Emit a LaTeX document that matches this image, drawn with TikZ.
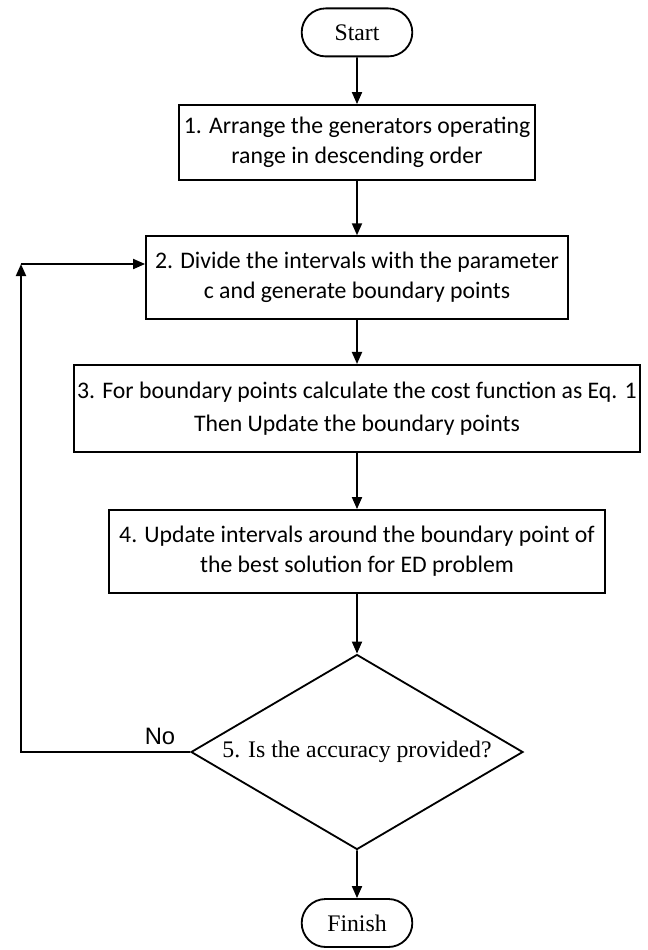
\documentclass[tikz,border=0pt]{standalone}
\usepackage{fontspec}
\setmainfont{Liberation Serif}
\newfontfamily\stepfont{Carlito}
\newfontfamily\labelfont{Liberation Sans}
\usetikzlibrary{arrows.meta, positioning, shapes.geometric, shapes.misc}

\tikzset{
  terminal/.style={draw, rounded rectangle, line width=1.3pt,
    minimum width=3cm, minimum height=1.2cm,
    font=\fontsize{16.9}{20}\selectfont},
  stepbox/.style={draw, rectangle, line width=1.3pt, align=center,
    inner xsep=2pt, font=\stepfont\fontsize{16.9}{21.3}\selectfont},
  decision/.style={draw, diamond, aspect=1.7, inner sep=0pt, line width=1.3pt,
    minimum width=8.3cm, minimum height=4.875cm,
    font=\fontsize{16.9}{20}\selectfont},
  flow/.style={-{Triangle[length=0.3cm, width=0.25cm]}, line width=1.3pt}
}

\begin{document}
\begin{tikzpicture}
  \useasboundingbox (0,0) rectangle (16.2,-23.75);
  % Start
  \node[terminal] (start) at (8.925,-0.81) {Start};
  % Step 1
  \node[stepbox, minimum width=8.9cm, minimum height=1.875cm] (arrange)
    at (8.925,-3.5625)
    {1. Arrange the generators operating\\ range in descending order};
  % Step 2
  \node[stepbox, minimum width=10.55cm, minimum height=2.07cm] (divide)
    at (8.925,-6.94)
    {2. Divide the intervals with the parameter\\ c and generate boundary points};
  % Step 3
  \node[stepbox, minimum height=2.175cm] (cost)
    at (8.925,-10.21)
    {3. For boundary points calculate the cost function as Eq. 1\\[2.5pt]
     Then Update the boundary points};
  % Step 4
  \node[stepbox, minimum width=12.4cm, minimum height=2.08cm] (update)
    at (8.925,-13.79)
    {4. Update intervals around the boundary point of\\
     the best solution for ED problem};
  % Step 5
  \node[decision] (check) at (8.925,-18.8) {5. Is the accuracy provided?};
  % Finish
  \node[terminal] (finish) at (8.925,-23.075) {Finish};
  % Arrows
  \foreach \a/\b in {start/arrange, arrange/divide, divide/cost,
                     cost/update, update/check, check/finish}
    \draw[flow] (\a) -- (\b);
  % Loop back
  \coordinate (corner) at (0.525,-6.6);
  \draw[flow] (check.west) -| (corner);
  \draw[flow] (corner) -- (corner -| divide.west);
  \node[font=\labelfont\fontsize{16.9}{20}\selectfont] (no) at (4.0,-18.42) {No};
\end{tikzpicture}
\end{document}
